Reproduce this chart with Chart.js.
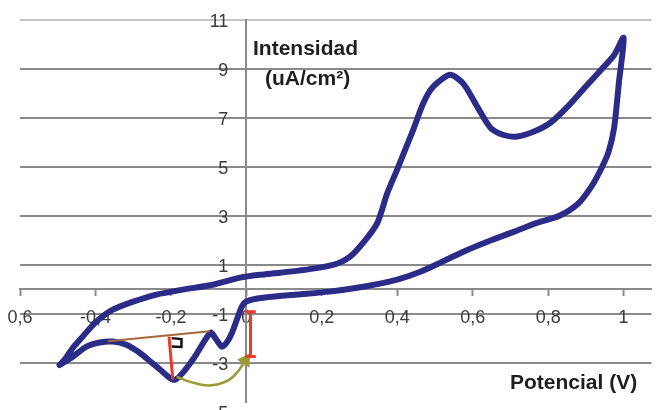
<!DOCTYPE html>
<html>
<head>
<meta charset="utf-8">
<script src="https://cdn.jsdelivr.net/npm/chart.js@4.4.1/dist/chart.umd.min.js"></script>
<style>
  body { margin: 0; background: #fff; overflow: hidden; }
  #wrap { position: relative; width: 660px; height: 410px; }
  .lbl { position: absolute; font: bold 21px 'Liberation Sans', Arial, sans-serif; color: #1e1e1e; white-space: nowrap; line-height: 24px; }
</style>
</head>
<body>
<div id="wrap">
  <canvas id="cv" width="660" height="410"></canvas>
  <div class="lbl" style="left:253px;top:36px">Intensidad</div>
  <div class="lbl" style="left:265px;top:66px">(uA/cm²)</div>
  <div class="lbl" style="left:510px;top:370px">Potencial (V)</div>
</div>
<script>
// axis ticks
const xTicks = [-0.6, -0.4, -0.2, 0, 0.2, 0.4, 0.6, 0.8, 1];
const xTickLabels = ['0,6', '-0,4', '-0,2', '0', '0,2', '0,4', '0,6', '0,8', '1'];
const yTicks = [-5, -3, -1, 1, 3, 5, 7, 9, 11];
const yTickLabels = ['-5', '-3', '-1', '1', '3', '5', '7', '9', '11'];

// anodic scan, from the left vertex up to the right vertex
const forwardV = [-0.495, -0.48, -0.46, -0.434, -0.40, -0.354, -0.30, -0.238, -0.169, -0.089, -0.017, 0.036, 0.089, 0.177, 0.24, 0.275, 0.31, 0.347, 0.373, 0.40, 0.442, 0.469, 0.495, 0.54, 0.575, 0.612, 0.647, 0.682, 0.718, 0.761, 0.806, 0.851, 0.895, 0.94, 0.975, 1.0];
const forwardI = [-3.1, -2.85, -2.4, -1.94, -1.36, -0.84, -0.51, -0.22, -0.02, 0.18, 0.47, 0.59, 0.67, 0.84, 1.04, 1.33, 1.9, 2.7, 3.9, 4.9, 6.5, 7.6, 8.27, 8.76, 8.4, 7.46, 6.6, 6.3, 6.24, 6.43, 6.8, 7.45, 8.2, 8.96, 9.57, 10.27];

// cathodic scan, from the right vertex back to the left vertex
const reverseV = [0.988, 0.975, 0.96, 0.94, 0.915, 0.88, 0.83, 0.77, 0.71, 0.639, 0.575, 0.514, 0.461, 0.40, 0.31, 0.22, 0.134, 0.044, 0.0, -0.012, -0.025, -0.038, -0.052, -0.065, -0.08, -0.095, -0.142, -0.19, -0.238, -0.283, -0.318, -0.354, -0.389, -0.424, -0.46, -0.495];
const reverseI = [8.5, 6.6, 5.6, 4.9, 4.2, 3.5, 3.0, 2.71, 2.35, 1.94, 1.53, 1.08, 0.71, 0.39, 0.1, -0.1, -0.22, -0.35, -0.5, -0.71, -1.24, -1.78, -2.18, -2.35, -2.05, -1.78, -2.88, -3.7, -3.16, -2.6, -2.27, -2.14, -2.18, -2.35, -2.76, -3.1];

// annotations
const baselineV = [-0.367, -0.097];
const baselineI = [-2.13, -1.72];
const heightV = [-0.205, -0.195];
const heightI = [-1.94, -3.7];
const markV = [-0.198, -0.172, -0.172, -0.198];
const markI = [-2.0, -2.04, -2.36, -2.34];
const iBeamV = [-0.003, 0.025, 0.011, 0.011, -0.003, 0.025];
const iBeamI = [-0.92, -0.92, -0.92, -2.75, -2.75, -2.75];
const arrowV = [-0.185, -0.142, -0.097, -0.052, -0.025, -0.002];
const arrowI = [-3.58, -3.82, -3.94, -3.76, -3.41, -2.9];

function toPoints (xs, ys) {
  return xs.map((x, i) => ({ x, y: ys[i] }));
}

const loop = toPoints(forwardV, forwardI).concat(toPoints(reverseV, reverseI));

const gridColor = '#8a8a8a';
const tickFont = { family: "'Liberation Sans', Arial, sans-serif", size: 18 };

// eslint-disable-next-line no-undef
const chart = new Chart('cv', {
  type: 'scatter',
  data: {
    datasets: [
      { data: toPoints(baselineV, baselineI), showLine: true, borderColor: '#a5683a', borderWidth: 2, pointRadius: 0 },
      { data: toPoints(heightV, heightI), showLine: true, borderColor: '#ea3b2b', borderWidth: 3, pointRadius: 0 },
      { data: toPoints(markV, markI), showLine: true, borderColor: '#111111', borderWidth: 2.5, pointRadius: 0 },
      { data: toPoints(iBeamV, iBeamI), showLine: true, borderColor: '#ea3b2b', borderWidth: 3, pointRadius: 0 },
      {
        data: toPoints(arrowV, arrowI),
        showLine: true,
        borderColor: '#9a9a32',
        backgroundColor: '#9a9a32',
        borderWidth: 2.5,
        tension: 0.4,
        pointStyle: 'triangle',
        pointRadius: [0, 0, 0, 0, 0, 6],
        pointRotation: [0, 0, 0, 0, 0, 33]
      },
      { data: loop, showLine: true, borderColor: '#2b2c88', borderWidth: 6, tension: 0.25, pointRadius: 0, borderJoinStyle: 'round', borderCapStyle: 'round' }
    ]
  },
  options: {
    responsive: false,
    animation: false,
    devicePixelRatio: 1,
    layout: { padding: { left: 20, top: 20, right: 0, bottom: 0 } },
    plugins: { legend: { display: false }, tooltip: { enabled: false } },
    scales: {
      x: {
        type: 'linear',
        min: -0.6,
        max: 1.074,
        position: { y: 0 },
        afterBuildTicks: scale => { scale.ticks = xTicks.map(value => ({ value })); },
        afterFit: scale => { scale.paddingLeft = 0; scale.paddingRight = 0; },
        grid: { drawOnChartArea: false, drawTicks: true, tickLength: 6, color: gridColor, tickWidth: 2 },
        border: { display: true, color: gridColor, width: 2 },
        ticks: {
          autoSkip: false,
          maxRotation: 0,
          padding: 12,
          color: '#3a3a3a',
          font: tickFont,
          callback: (value, index) => xTickLabels[index]
        }
      },
      y: {
        type: 'linear',
        min: -4.59,
        max: 11,
        position: { x: 0 },
        afterBuildTicks: scale => { scale.ticks = yTicks.map(value => ({ value })); },
        afterFit: scale => { scale.paddingTop = 0; scale.paddingBottom = 0; },
        grid: {
          color: ctx => (ctx.tick && ctx.tick.value === 11 ? '#c4c4c4' : gridColor),
          lineWidth: 2,
          tickLength: 6,
          tickWidth: 2
        },
        border: { display: true, color: gridColor, width: 2 },
        ticks: {
          autoSkip: false,
          labelOffset: 2,
          color: '#3a3a3a',
          font: tickFont,
          // labels sit right-aligned on the axis, so pad them off it
          callback: (value, index) => yTickLabels[index] + '\u2002\u2002'
        }
      }
    }
  }
});
</script>
</body>
</html>
